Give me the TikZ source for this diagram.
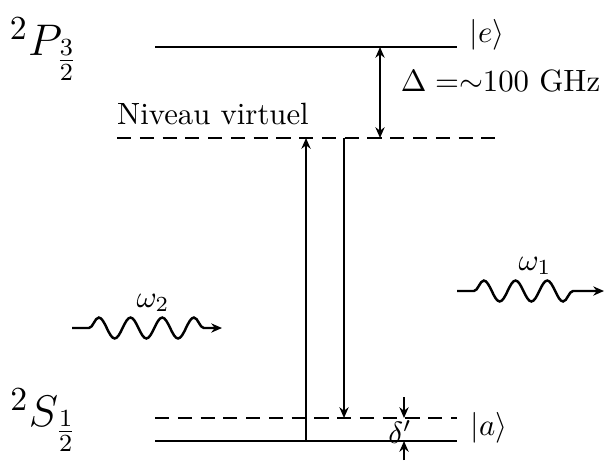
\documentclass[tikz,border=0pt]{standalone}
\usepackage{amsmath}
\usepackage{amssymb}
\usetikzlibrary{arrows.meta,decorations.pathmorphing}

\begin{document}
\begin{tikzpicture}[
    x=0.325pt,y=-0.325pt,
    level/.style={thick},
    virtual/.style={thick,dash pattern=on 4.6pt off 2.8pt},
    trans/.style={semithick,->},
    bigterm/.style={font=\fontsize{15.5}{18}\selectfont},
    photon/.style={thick,->,decorate,decoration={snake,amplitude=3.4pt,
        segment length=10.3pt,pre length=5.5pt,post length=5pt}},
    >={Stealth[length=3.5pt,width=3pt]}]
  \useasboundingbox (0,0) rectangle (604,460);
  % levels
  \coordinate (eL) at (155,47);  \coordinate (eR) at (457,47);
  \coordinate (vL) at (117,138); \coordinate (vR) at (495,138);
  \coordinate (aL) at (155,418); \coordinate (aR) at (457,418);
  \coordinate (gL) at (155,441); \coordinate (gR) at (457,441);
  \draw[level] (eL) -- (eR);
  \draw[virtual] (vL) -- (vR);
  \draw[virtual] (aL) -- (aR);
  \draw[level] (gL) -- (gR);
  % labels
  \node[bigterm] (P) at (44,49) {$^2P_{\frac{3}{2}}$};
  \node[bigterm] (S) at (44,420) {$^2S_{\frac{1}{2}}$};
  \node (e) at (487,35) {$|e\rangle$};
  \node (a) at (489,428) {$|a\rangle$};
  \node (niv) at (213,114) {Niveau virtuel};
  \node[right] (delta) at (390,81) {$\Delta =${}$\sim$100 GHz};
  % transitions
  \coordinate (pump) at (306,0);
  \coordinate (stokes) at (344,0);
  \coordinate (det) at (380,0);
  \draw[trans] (gL -| pump) -- (vL -| pump);
  \draw[trans] (vL -| stokes) -- (aL -| stokes);
  \draw[semithick,<->] (eL -| det) -- (vL -| det);
  % delta prime
  \coordinate (dp) at (404,0);
  \coordinate (dtop) at (404,397);
  \coordinate (dbot) at (404,460);
  \draw[trans] (dtop) -- (aL -| dp);
  \draw[trans] (dbot) -- (gL -| dp);
  \node (dprime) at (400,432) {$\delta'$};
  % photons
  \coordinate (w2a) at (72,328);  \coordinate (w2b) at (222,328);
  \coordinate (w1a) at (457,291); \coordinate (w1b) at (604,291);
  \draw[photon] (w2a) -- (w2b);
  \draw[photon] (w1a) -- (w1b);
  \node (om2) at (153,303) {$\omega_2$};
  \node (om1) at (535,266) {$\omega_1$};
\end{tikzpicture}
\end{document}
